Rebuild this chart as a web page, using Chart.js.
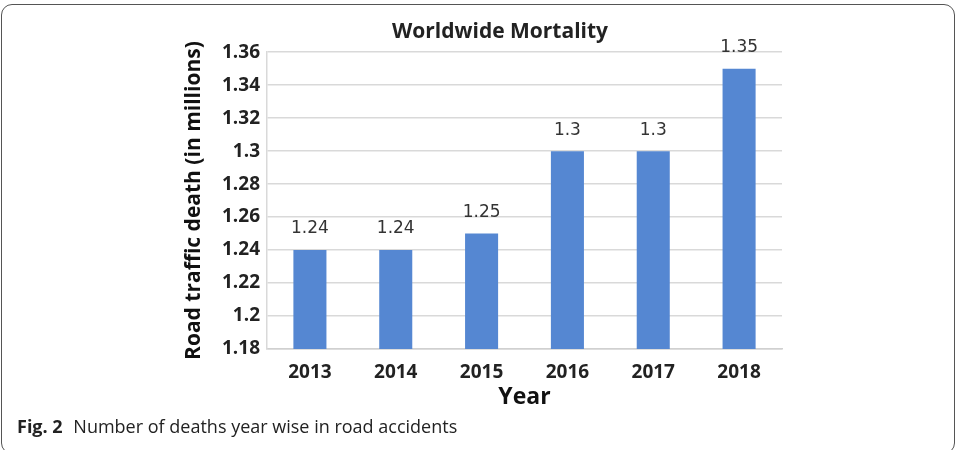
<!DOCTYPE html>
<html>
<head>
<meta charset="utf-8">
<script src="https://cdn.jsdelivr.net/npm/chart.js@4"></script>
<style>
    body { margin: 0; background: #fff; }
    #wrap { position: relative; width: 959px; height: 450px; overflow: hidden; }
    #marco {
        position: absolute; left: 1px; top: 4px; width: 954px; height: 450px;
        border: 1.5px solid #555; border-radius: 11px; box-sizing: border-box;
    }
    #grafico { position: absolute; left: 0; top: 0; }
    #pie {
        position: absolute; left: 17px; top: 414px;
        font-family: "Open Sans", sans-serif; font-size: 18px; color: #222;
    }
    #pie b { margin-right: 6px; }
</style>
</head>
<body>
<div id="wrap">
    <div id="marco"></div>
    <canvas id="grafico" width="959" height="450"></canvas>
    <div id="pie"><b>Fig. 2</b> Number of deaths year wise in road accidents</div>
</div>
<script>
// Data
const anios = ['2013', '2014', '2015', '2016', '2017', '2018'];
const muertes = [1.24, 1.24, 1.25, 1.3, 1.3, 1.35];
const ejeMin = 1.18;
const ejeMax = 1.36;
const paso = 0.02;

const formatear = (v) => Number(v.toFixed(2)).toString();

// Function to write the value over each bar
const etiquetasBarras = {
    id: 'etiquetasBarras',
    afterDatasetsDraw(chart) {
        const ctx = chart.ctx;
        ctx.save();
        ctx.font = '17px "DejaVu Sans"';
        ctx.fillStyle = '#333';
        ctx.textAlign = 'center';
        ctx.textBaseline = 'middle';
        chart.getDatasetMeta(0).data.forEach((barra, i) => {
            ctx.fillText(formatear(muertes[i]), barra.x, barra.y - 21);
        });
        ctx.restore();
    }
};

const ctx = document.getElementById('grafico').getContext('2d');
new Chart(ctx, {
    type: 'bar',
    data: {
        labels: anios,
        datasets: [{
            label: 'Road traffic death (in millions)',
            data: muertes,
            backgroundColor: '#5587d2',
            barPercentage: 0.385,
            categoryPercentage: 1
        }]
    },
    options: {
        responsive: false,
        animation: false,
        layout: { padding: { left: 218, right: 177, top: 0, bottom: 39 } },
        plugins: {
            legend: { display: false },
            tooltip: { enabled: false },
            title: {
                display: true,
                text: 'Worldwide Mortality',
                color: '#222',
                font: { family: 'Open Sans', size: 21, weight: 'bold' },
                padding: { top: 19, bottom: 8 }
            }
        },
        scales: {
            x: {
                grid: { display: false },
                border: { display: true, color: '#d0d0d0', width: 1.5 },
                ticks: {
                    color: '#222',
                    padding: 4,
                    font: { family: 'Open Sans', size: 19, weight: 'bold' }
                },
                title: {
                    display: true,
                    text: 'Year',
                    color: '#111',
                    padding: 0,
                    font: { family: 'Open Sans', size: 23, weight: 'bold' }
                },
                afterFit: (escala) => { escala.height = 62; }
            },
            y: {
                min: ejeMin,
                max: ejeMax,
                grid: { color: '#d9d9d9', lineWidth: 1.5, drawTicks: false },
                border: { display: true, color: '#d9d9d9', width: 1.5 },
                ticks: {
                    stepSize: paso,
                    color: '#222',
                    padding: 7,
                    font: { family: 'Open Sans', size: 19, weight: 'bold' },
                    callback: (v) => formatear(v)
                },
                title: {
                    display: true,
                    text: 'Road traffic death (in millions)',
                    color: '#111',
                    padding: { top: -37, bottom: 0 },
                    font: { family: 'Open Sans', size: 21, weight: 'bold' }
                },
                afterFit: (escala) => { escala.width = 49; }
            }
        }
    },
    plugins: [etiquetasBarras]
});
</script>
</body>
</html>
